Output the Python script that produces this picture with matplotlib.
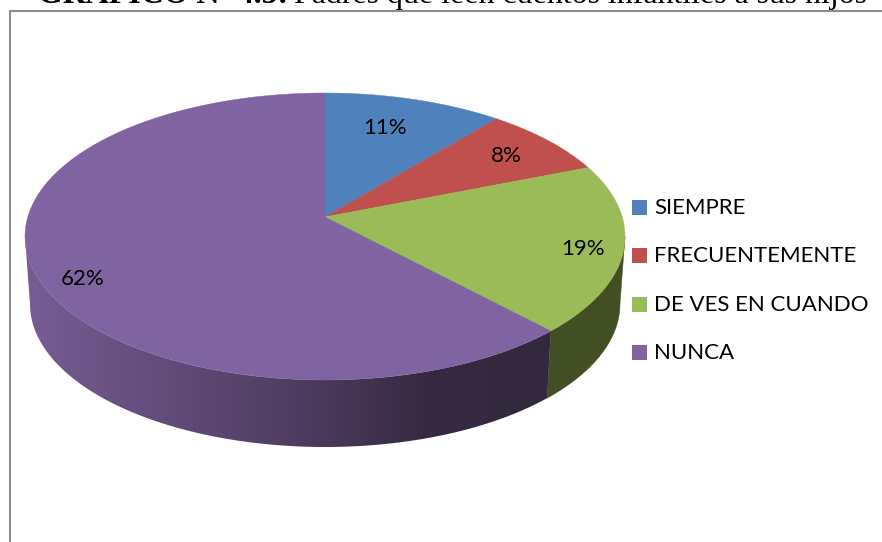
import numpy as np
import matplotlib
matplotlib.use('Agg')
import matplotlib.pyplot as plt
from matplotlib.patches import Polygon, Rectangle

categories = ['SIEMPRE', 'FRECUENTEMENTE', 'DE VES EN CUANDO', 'NUNCA']
values = [11, 8, 19, 62]
labels = ['11%', '8%', '19%', '62%']
colors = ['#4f81bd', '#c0504d', '#9bbb59', '#8064a2']
wall_colors = ['#2f4a6d', '#6f2e2c', '#414f23']

W, H = 882, 542
CX, CY, A, B = 325, 236.5, 300, 143.5
CX2, CY2, A2, B2 = 325, 304, 295, 143
K = 0.136  # perspective, moves the apex up from the ellipse centre


def warp(t):
    # true pie angle -> angle on the drawn ellipse
    u, v = np.sin(t), np.cos(t)
    d = 1 + K * v
    return np.arctan2(u * np.sqrt(1 - K ** 2) / d, (v + K) / d)


def arc(start, end, n=400):
    return np.unwrap(warp(np.linspace(start, end, n)))


fig = plt.figure(figsize=(W / 100, H / 100), dpi=100)
ax = fig.add_axes([0, 0, 1, 1])
ax.set_xlim(0, W)
ax.set_ylim(H, 0)
ax.axis('off')

# frame, runs off the picture on the right and the bottom
ax.plot([W + 5, 9.5, 9.5], [11, 11, H + 5], color='#8c8c8c', lw=1.5)

fr = np.cumsum([0] + values) / sum(values) * 2 * np.pi

# side walls, only the front half of the rim shows
for i in range(len(values)):
    t = arc(fr[i], fr[i + 1])
    t = t[np.cos(t) <= 0]
    if len(t) == 0:
        continue
    xs = np.r_[CX + A * np.sin(t), CX2 + A2 * np.sin(t[::-1])]
    ys = np.r_[CY - B * np.cos(t), CY2 - B2 * np.cos(t[::-1])]
    if i == 3:
        # shaded wall, dark to the right
        patch = Polygon(np.c_[xs, ys], closed=True, fc='none', ec='none', zorder=2)
        ax.add_patch(patch)
        gx = np.arange(0, 600)
        grad = np.stack([np.interp(gx, [30, 300, 430, 547], [0x76, 0x4e, 0x35, 0x33]),
                         np.interp(gx, [30, 300, 430, 547], [0x5c, 0x3c, 0x2a, 0x29]),
                         np.interp(gx, [30, 300, 430, 547], [0x93, 0x60, 0x41, 0x3f])], axis=-1)[None] / 255
        im = ax.imshow(grad, extent=[0, 600, 460, 200], aspect='auto', zorder=2)
        im.set_clip_path(patch)
        ax.set_xlim(0, W)
        ax.set_ylim(H, 0)
    else:
        ax.add_patch(Polygon(np.c_[xs, ys], closed=True, fc=wall_colors[i], ec=wall_colors[i], lw=0.3, zorder=2))

# top face
apex = (CX, CY - K * B)
for i in range(len(values)):
    t = arc(fr[i], fr[i + 1])
    xs = np.r_[apex[0], CX + A * np.sin(t)]
    ys = np.r_[apex[1], CY - B * np.cos(t)]
    ax.add_patch(Polygon(np.c_[xs, ys], closed=True, fc=colors[i], ec=colors[i], lw=0.3, zorder=3))

# slice labels
label_pos = [(385, 128), (506, 156), (583, 249), (83, 279)]
for lab, (x, y) in zip(labels, label_pos):
    ax.text(x, y, lab, family='Lato', fontsize=16, color='black', ha='center', va='center', zorder=4)

# legend
leg_y = [207.5, 255.5, 304.5, 352.5]
for name, c, y in zip(categories, colors, leg_y):
    ax.add_patch(Rectangle((632, y - 7.5), 15, 15, fc=c, ec='none', zorder=4))
    ax.text(654, y + 0.5, name, family='Lato', fontsize=16, color='black', ha='left', va='center', zorder=4)

# title, cut by the top of the picture
t1 = ax.text(38, 3, 'GRAFICO Nº 4.5:', family='Liberation Serif', fontsize=22.95, fontweight='bold',
             ha='left', va='baseline', color='black')
fig.canvas.draw()
bb = t1.get_window_extent()
ax.text(bb.x1 + 6, 3, 'Padres que leen cuentos infantiles a sus hijos', family='Liberation Serif',
        fontsize=22.95, ha='left', va='baseline', color='black')

fig.savefig('out.png', dpi=100)
